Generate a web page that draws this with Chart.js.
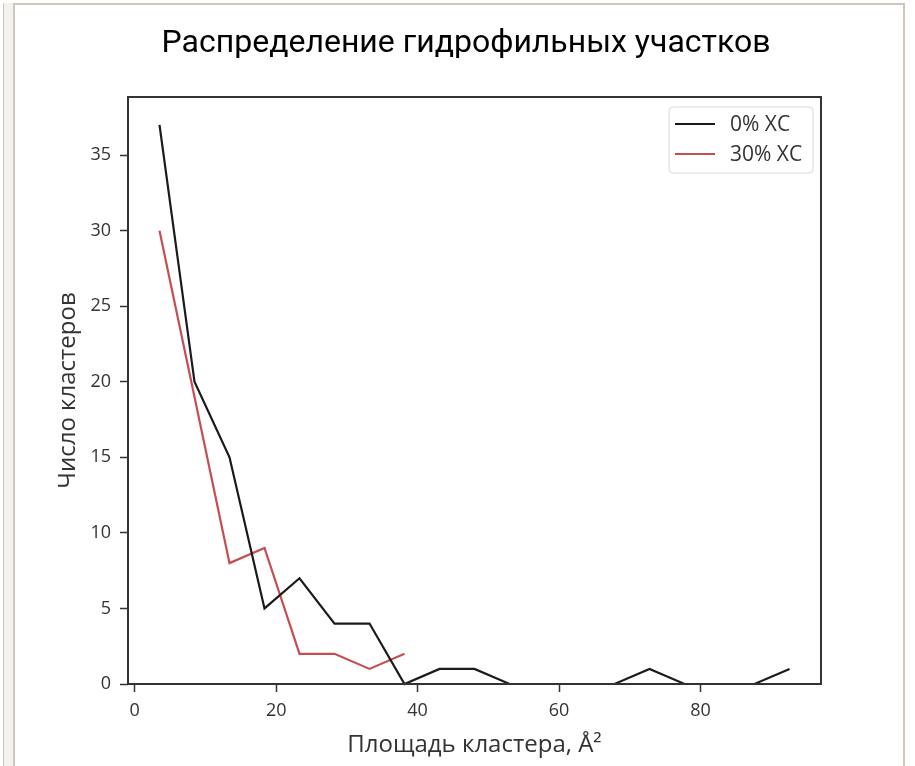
<!DOCTYPE html>
<html>
<head>
<meta charset="utf-8">
<script src="https://cdn.jsdelivr.net/npm/chart.js@4.4.1/dist/chart.umd.min.js"></script>
<style>
  html, body { margin: 0; padding: 0; background: #fff; }
  body { width: 915px; height: 766px; position: relative; overflow: hidden; }
  .strip { position: absolute; left: 3px; top: 3px; width: 10px; height: 800px;
           border-left: 1px solid #c9c3b8; background: #f4f2ee; }
  .panel { position: absolute; left: 13px; top: 3px; width: 888px; height: 800px;
           border: 2px solid #cfc8ba; background: #fff; }
  #wrap { position: absolute; left: 0; top: 0; width: 915px; height: 766px; }
</style>
</head>
<body>
<div class="strip"></div>
<div class="panel"></div>
<div id="wrap"><canvas id="chart"></canvas></div>
<script>
const chartTitle = "Распределение гидрофильных участков";
const xTitle = "Площадь кластера, Å²";
const yTitle = "Число кластеров";
const seriesLabels = ["0% XC", "30% XC"];

// bin centres
const binCenters = [3.5, 8.45, 13.4, 18.35, 23.3, 28.25, 33.2, 38.15, 43.1, 48.05,
                    53.0, 57.95, 62.9, 67.85, 72.8, 77.75, 82.7, 87.65, 92.6];
const clusters0 = [37, 20, 15, 5, 7, 4, 4, 0, 1, 1, 0, 0, 0, 0, 1, 0, 0, 0, 1];
const clusters30 = [30, 19, 8, 9, 2, 2, 1, 2];

const xTicks = [0, 20, 40, 60, 80];
const yTicks = [0, 5, 10, 15, 20, 25, 30, 35];

const axisColor = "#333333";
const tickFont = { family: "Open Sans", size: 18 };
const labelFont = { family: "Open Sans", size: 24 };

const toPoints = (ys) => ys.map((y, i) => ({ x: binCenters[i], y: y }));

// matplotlib-style box around the axes
const frame = {
  id: "frame",
  afterDatasetsDraw(chart) {
    const { ctx, chartArea: a } = chart;
    ctx.save();
    ctx.strokeStyle = axisColor;
    ctx.lineWidth = 2;
    ctx.strokeRect(a.left, a.top, a.right - a.left, a.bottom - a.top);
    ctx.restore();
  }
};

// legend drawn inside the plot, upper right
const innerLegend = {
  id: "innerLegend",
  afterDraw(chart) {
    const { ctx, chartArea: a } = chart;
    const boxW = 144, boxH = 66, rowH = 30;
    const x = a.right - 8 - boxW, y = a.top + 10;
    ctx.save();
    ctx.beginPath();
    ctx.roundRect(x, y, boxW, boxH, 4);
    ctx.fillStyle = "rgba(255,255,255,0.85)";
    ctx.fill();
    ctx.strokeStyle = "#d8d8d8";
    ctx.lineWidth = 1;
    ctx.stroke();
    ctx.font = "21px 'Open Sans'";
    ctx.textBaseline = "middle";
    chart.data.datasets.forEach((ds, i) => {
      const cy = y + 17 + i * rowH;
      ctx.strokeStyle = ds.borderColor;
      ctx.lineWidth = 2;
      ctx.beginPath();
      ctx.moveTo(x + 6, cy);
      ctx.lineTo(x + 46, cy);
      ctx.stroke();
      ctx.fillStyle = axisColor;
      ctx.fillText(ds.label, x + 61, cy + 1);
    });
    ctx.restore();
  }
};

new Chart(document.getElementById("chart"), {
  type: "line",
  data: {
    datasets: [
      {
        label: seriesLabels[0],
        data: toPoints(clusters0),
        borderColor: "#1a1a1a",
        borderWidth: 2.2,
        pointRadius: 0,
        tension: 0,
        clip: false
      },
      {
        label: seriesLabels[1],
        data: toPoints(clusters30),
        borderColor: "#c44e52",
        borderWidth: 2.2,
        pointRadius: 0,
        tension: 0,
        clip: false
      }
    ]
  },
  options: {
    responsive: true,
    maintainAspectRatio: false,
    animation: false,
    layout: { padding: { left: 17, right: 0, top: 0, bottom: 0 } },
    plugins: {
      legend: { display: false },
      tooltip: { enabled: false },
      title: {
        display: true,
        text: chartTitle,
        color: "#000",
        font: { family: "Roboto", size: 32, weight: "normal" },
        padding: { top: 25, bottom: 33.6 }
      }
    },
    scales: {
      x: {
        type: "linear",
        min: -0.955,
        max: 97.05,
        afterFit: (s) => { s.height = 82; },
        afterBuildTicks: (s) => { s.ticks = xTicks.map(v => ({ value: v })); },
        border: { display: false },
        grid: { drawOnChartArea: false, drawTicks: true, tickLength: 8, tickColor: axisColor, tickWidth: 1.5 },
        ticks: { color: axisColor, font: tickFont, padding: 8, maxRotation: 0 },
        title: { display: true, text: xTitle, color: axisColor, font: labelFont,
                 padding: { top: 0, bottom: 6.6 } }
      },
      y: {
        type: "linear",
        min: 0,
        max: 38.85,
        afterFit: (s) => { s.width = 111; },
        afterBuildTicks: (s) => { s.ticks = yTicks.map(v => ({ value: v })); },
        border: { display: false },
        grid: { drawOnChartArea: false, drawTicks: true, tickLength: 8, tickColor: axisColor, tickWidth: 1.5 },
        ticks: { color: axisColor, font: tickFont, padding: 9 },
        title: { display: true, text: yTitle, color: axisColor, font: labelFont,
                 padding: { top: 36.6, bottom: 0 } }
      },
      // empty right-hand scale that only reserves the margin right of the axes
      yRight: {
        type: "linear",
        position: "right",
        afterFit: (s) => { s.width = 94; },
        border: { display: false },
        grid: { display: false },
        ticks: { display: false }
      }
    }
  },
  plugins: [frame, innerLegend]
});
</script>
</body>
</html>
